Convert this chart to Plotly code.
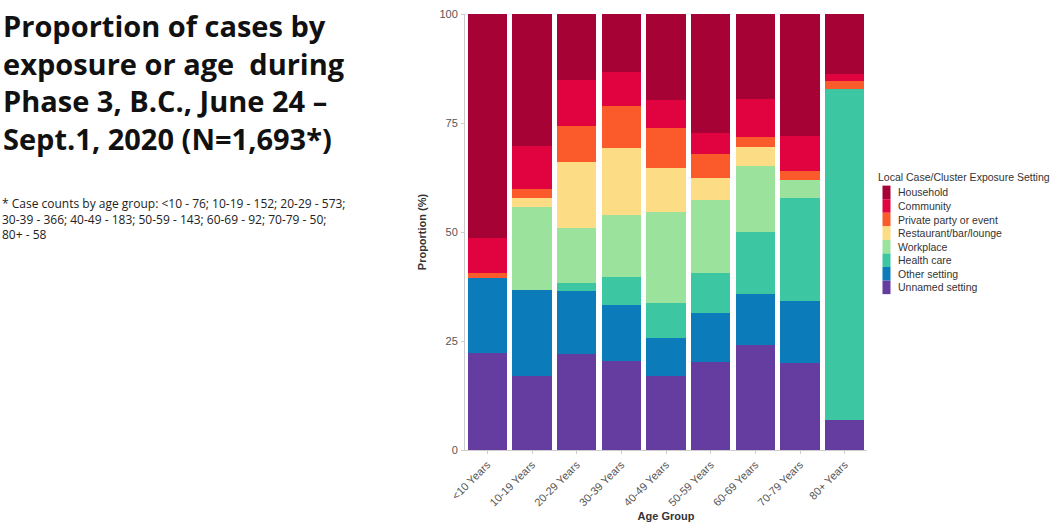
import plotly.graph_objects as go

age_groups = ["<10 Years", "10-19 Years", "20-29 Years", "30-39 Years", "40-49 Years",
              "50-59 Years", "60-69 Years", "70-79 Years", "80+ Years"]

# Proportions (%) per exposure setting
unnamed = [22.2, 17.0, 22.1, 20.4, 17.0, 20.1, 24.0, 20.0, 6.9]
other = [17.2, 19.8, 14.3, 12.9, 8.6, 11.4, 11.8, 14.1, 0.0]
health_care = [0.0, 0.0, 1.9, 6.3, 8.2, 9.0, 14.2, 23.8, 75.9]
workplace = [0.0, 19.0, 12.6, 14.2, 20.7, 16.8, 15.1, 4.1, 0.0]
restaurant = [0.0, 2.0, 15.1, 15.4, 10.1, 5.1, 4.4, 0.0, 0.0]
private_party = [1.2, 2.1, 8.4, 9.8, 9.2, 5.5, 2.3, 2.1, 1.8]
community = [8.0, 9.9, 10.4, 7.7, 6.5, 4.9, 8.7, 7.9, 1.6]
household = [51.4, 30.2, 15.2, 13.3, 19.7, 27.2, 19.5, 28.0, 13.8]

series_names = ["Unnamed setting", "Other setting", "Health care", "Workplace",
                "Restaurant/bar/lounge", "Private party or event", "Community", "Household"]
series_values = [unnamed, other, health_care, workplace, restaurant, private_party,
                 community, household]
series_colors = ["#653c9f", "#0b7bba", "#3dc6a2", "#9be39c", "#fcdc84", "#fb5b2b",
                 "#e1033f", "#a60236"]

y_ticks = [0, 25, 50, 75, 100]

legend_title = "Local Case/Cluster Exposure Setting"
title_text = ("Proportion of cases by<br>exposure or age\u00a0 during<br>"
              "Phase 3, B.C., June 24 \u2013<br>Sept.1, 2020 (N=1,693*)")
footnote = ("* Case counts by age group: <10 - 76; 10-19 - 152; 20-29 - 573;<br>"
            "30-39 - 366; 40-49 - 183; 50-59 - 143; 60-69 - 92; 70-79 - 50;<br>"
            "80+ - 58")

W, H = 1063, 529
ML, MR, MT, MB = 465, 196, 8, 79
PW, PH = W - ML - MR, H - MT - MB


def px_x(px):
    return (px - ML) / PW


def px_y(py):
    return (H - MB - py) / PH


fig = go.Figure()
for name, vals, col in zip(series_names, series_values, series_colors):
    fig.add_trace(go.Bar(x=age_groups, y=vals, name=name, marker_color=col,
                         marker_line_width=0, showlegend=False))

annotations = [
    dict(text=title_text, xref="paper", yref="paper", x=px_x(1), y=px_y(77),
         xanchor="left", yanchor="middle", align="left", showarrow=False,
         font=dict(family="Open Sans", size=29, color="#111111", weight="bold")),
    dict(text=footnote, xref="paper", yref="paper", x=px_x(0), y=px_y(216),
         xanchor="left", yanchor="middle", align="left", showarrow=False,
         font=dict(family="Open Sans", size=12, color="#222222")),
    dict(text=legend_title, xref="paper", yref="paper", x=px_x(876), y=px_y(173),
         xanchor="left", yanchor="middle", showarrow=False,
         font=dict(family="Liberation Sans", size=10.5, color="#333333")),
]

# compact legend (Household on top, matching the stacking order)
shapes = []
leg_top, leg_step = 182, 13.75
for i, (name, col) in enumerate(zip(series_names[::-1], series_colors[::-1])):
    y0 = leg_top + i * leg_step
    shapes.append(dict(type="rect", xref="paper", yref="paper",
                       x0=px_x(882.5), x1=px_x(890.5), y0=px_y(y0), y1=px_y(y0 + leg_step),
                       fillcolor=col, line=dict(width=0)))
    annotations.append(dict(text=name, xref="paper", yref="paper", x=px_x(896),
                            y=px_y(y0 + leg_step / 2), xanchor="left", yanchor="middle",
                            showarrow=False,
                            font=dict(family="Liberation Sans", size=10.5, color="#333333")))

fig.update_layout(
    width=W, height=H,
    margin=dict(l=ML, r=MR, t=MT, b=MB),
    paper_bgcolor="white", plot_bgcolor="white",
    barmode="stack", bargap=0.12,
    annotations=annotations, shapes=shapes,
    font=dict(family="Liberation Sans", size=11, color="#555555"),
    showlegend=False,
    xaxis=dict(
        title=dict(text="<b>Age Group</b>", font=dict(size=11, color="#333333"), standoff=4),
        tickangle=-45, tickfont=dict(size=11, color="#555555"),
        showline=True, linecolor="#cccccc", linewidth=1,
        ticks="outside", ticklen=3, tickcolor="#cccccc",
        showgrid=False, zeroline=False),
    yaxis=dict(
        title=dict(text="<b>Proportion (%)</b>", font=dict(size=11, color="#333333"), standoff=10),
        range=[0, 100], tickvals=y_ticks,
        tickfont=dict(size=11, color="#555555"),
        ticklabelstandoff=1,
        showline=True, linecolor="#cccccc", linewidth=1,
        ticks="outside", ticklen=3, tickcolor="#cccccc",
        showgrid=False, zeroline=False),
)

fig.write_html("out.html", config={"displayModeBar": False},
               post_script="document.body.style.margin='0';")
